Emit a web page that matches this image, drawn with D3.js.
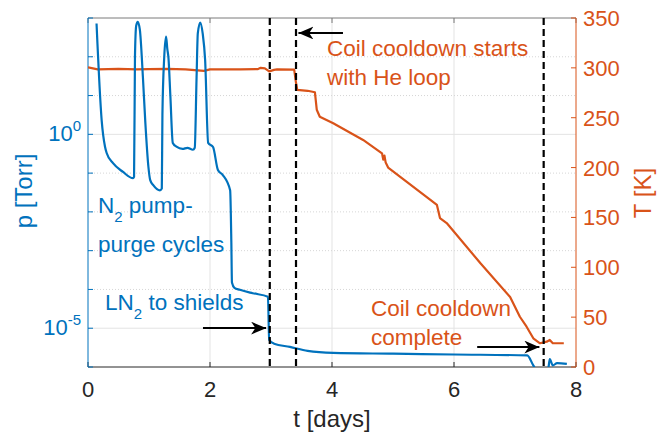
<!DOCTYPE html>
<html lang="en">
  <head>
    <meta charset="UTF-8" />
    <title>pressure and temperature vs time - d3</title>
    <script src="https://d3js.org/d3.v7.min.js"></script>
  </head>
  <style>
    html,
    body {
      margin: 0;
      padding: 0;
      background: #fff;
    }
    text {
      font-family: Arial, "Liberation Sans", Helvetica, sans-serif;
    }
  </style>
  <body>
    <script>
      // pressure (left, log axis)
      var tPress = [0.14, 0.224, 0.279, 0.306, 0.41, 0.574, 0.738, 0.755, 0.77, 0.79, 0.815, 0.85, 0.9, 0.94, 0.99, 1.02, 1.07, 1.18, 1.21, 1.22, 1.25, 1.28, 1.3, 1.32, 1.35, 1.39, 1.45, 1.55, 1.63, 1.72, 1.75, 1.78, 1.8, 1.84, 1.88, 1.92, 1.97, 2.05, 2.13, 2.21, 2.33, 2.35, 2.36, 2.4, 2.49, 2.7, 2.95, 2.97, 3.05, 3.31, 3.6, 4.02, 5.0, 6.0, 7.2, 7.3, 7.36, 7.52, 7.55, 7.57, 7.62, 7.69, 7.85];
      var pTorr = [720, 2.3, 0.48, 0.33, 0.18, 0.107, 0.074, 0.08, 100, 630, 800, 500, 30, 2, 0.146, 0.066, 0.049, 0.036, 0.04, 3.2, 100, 330, 160, 90, 10, 0.6, 0.48, 0.42, 0.45, 0.4, 0.45, 30, 400, 760, 400, 83, 0.6, 0.47, 0.12, 0.089, 0.036, 0.0016, 1.5e-4, 1.1e-4, 9.8e-5, 8e-5, 6.5e-5, 5e-6, 4e-6, 3.3e-6, 2.6e-6, 2.3e-6, 2.2e-6, 2.1e-6, 2.0e-6, 1.1e-6, 8e-7, 8e-7, 1.0e-6, 1.6e-6, 1.1e-6, 1.26e-6, 1.2e-6];

      // temperature (right axis)
      var tTemp = [0, 0.16, 0.5, 0.8, 1.0, 1.3, 1.6, 1.9, 2.0, 2.5, 2.78, 2.83, 2.9, 2.97, 3.05, 3.1, 3.38, 3.41, 3.43, 3.6, 3.72, 3.75, 3.8, 4.02, 4.51, 4.82, 4.84, 4.86, 4.88, 4.92, 5.72, 5.77, 5.88, 6.43, 6.92, 7.08, 7.19, 7.3, 7.41, 7.52, 7.57, 7.62, 7.8];
      var tempK = [300.5, 298.5, 299, 298.5, 298.8, 299, 298.5, 297, 298.5, 298.5, 298.7, 300, 299.5, 296.5, 298, 298.5, 298.3, 285, 278, 277, 275.5, 258, 251, 244.4, 227.7, 214.3, 208, 212, 205, 200, 162.5, 149.4, 144.4, 104.3, 70.2, 50.4, 40.4, 28.8, 23.8, 25.4, 27.1, 23.8, 23.8];

      // event markers (days)
      var eventDays = [2.98, 3.41, 7.47];

      var xTicks = [0, 2, 4, 6, 8];
      var pDecades = [1e-6, 1e-5, 1e-4, 1e-3, 1e-2, 1e-1, 1e0, 1e1, 1e2, 1e3];
      var pLabels = [1e-5, 1e0];
      var tTicks = [0, 50, 100, 150, 200, 250, 300, 350];

      var blue = "#0072BD";
      var orange = "#D95319";
      var dark = "#262626";

      var W = 669, H = 435;
      var pxL = 88, pxR = 576, pyT = 18, pyB = 367;

      var svg = d3.select("body").append("svg")
        .attr("width", W)
        .attr("height", H);

      var x = d3.scaleLinear().domain([0, 8]).range([pxL, pxR]);
      var yP = d3.scaleLog().domain([1e-6, 1e3]).range([pyB, pyT]);
      var yT = d3.scaleLinear().domain([0, 350]).range([pyB, pyT]);

      svg.append("clipPath").attr("id", "plot")
        .append("rect")
        .attr("x", pxL).attr("y", pyT)
        .attr("width", pxR - pxL).attr("height", pyB - pyT);

      // grid
      svg.append("g").selectAll("line")
        .data(xTicks.slice(1, -1))
        .enter().append("line")
        .attr("x1", d => x(d)).attr("x2", d => x(d))
        .attr("y1", pyT).attr("y2", pyB)
        .attr("stroke", "#e3e3e3").attr("stroke-width", 1);

      svg.append("g").selectAll("line")
        .data(pDecades.slice(1, -1))
        .enter().append("line")
        .attr("x1", pxL).attr("x2", pxR)
        .attr("y1", d => yP(d)).attr("y2", d => yP(d))
        .attr("stroke", d => pLabels.indexOf(d) >= 0 ? "#e3e3e3" : "#d6d6d6")
        .attr("stroke-width", 1)
        .attr("stroke-dasharray", d => pLabels.indexOf(d) >= 0 ? null : "1,2");

      // box top / bottom
      svg.append("line")
        .attr("x1", pxL).attr("x2", pxR).attr("y1", pyT).attr("y2", pyT)
        .attr("stroke", "#7a7a7a").attr("stroke-width", 1);
      svg.append("line")
        .attr("x1", pxL).attr("x2", pxR).attr("y1", pyB).attr("y2", pyB)
        .attr("stroke", dark).attr("stroke-width", 1);

      // x ticks, pointing in
      svg.append("g").selectAll("line")
        .data(xTicks)
        .enter().append("line")
        .attr("x1", d => x(d)).attr("x2", d => x(d))
        .attr("y1", pyB).attr("y2", pyB - 5)
        .attr("stroke", dark);
      svg.append("g").selectAll("line")
        .data(xTicks)
        .enter().append("line")
        .attr("x1", d => x(d)).attr("x2", d => x(d))
        .attr("y1", pyT).attr("y2", pyT + 5)
        .attr("stroke", "#7a7a7a");
      svg.append("g").selectAll("text")
        .data(xTicks)
        .enter().append("text")
        .attr("x", d => x(d))
        .attr("y", 397)
        .attr("text-anchor", "middle")
        .attr("font-size", 22)
        .attr("fill", dark)
        .text(d => d);

      svg.append("text")
        .attr("x", (pxL + pxR) / 2)
        .attr("y", 427)
        .attr("text-anchor", "middle")
        .attr("font-size", 24)
        .attr("fill", dark)
        .text("t [days]");

      // left axis
      svg.append("line")
        .attr("x1", pxL).attr("x2", pxL).attr("y1", pyT).attr("y2", pyB)
        .attr("stroke", blue).attr("stroke-width", 1);
      svg.append("g").selectAll("line")
        .data(pDecades)
        .enter().append("line")
        .attr("x1", pxL).attr("x2", pxL + 5)
        .attr("y1", d => yP(d)).attr("y2", d => yP(d))
        .attr("stroke", blue);
      var pl = svg.append("g").selectAll("text")
        .data(pLabels)
        .enter().append("text")
        .attr("x", 81)
        .attr("y", d => yP(d) + 7)
        .attr("text-anchor", "end")
        .attr("font-size", 22)
        .attr("fill", blue);
      pl.append("tspan").text("10");
      pl.append("tspan")
        .attr("dy", -10)
        .attr("font-size", 15)
        .text(d => Math.round(Math.log10(d)) === 0 ? "0" : "-" + Math.abs(Math.round(Math.log10(d))));

      svg.append("text")
        .attr("transform", "translate(32,191) rotate(-90)")
        .attr("text-anchor", "middle")
        .attr("font-size", 24)
        .attr("fill", blue)
        .text("p [Torr]");

      // right axis
      svg.append("line")
        .attr("x1", pxR).attr("x2", pxR).attr("y1", pyT).attr("y2", pyB)
        .attr("stroke", orange).attr("stroke-width", 1);
      svg.append("g").selectAll("line")
        .data(tTicks)
        .enter().append("line")
        .attr("x1", pxR).attr("x2", pxR - 5)
        .attr("y1", d => yT(d)).attr("y2", d => yT(d))
        .attr("stroke", orange);
      svg.append("g").selectAll("text")
        .data(tTicks)
        .enter().append("text")
        .attr("x", 583)
        .attr("y", d => yT(d) + 8)
        .attr("font-size", 22)
        .attr("fill", orange)
        .text(d => d);

      svg.append("text")
        .attr("transform", "translate(651,193) rotate(-90)")
        .attr("text-anchor", "middle")
        .attr("font-size", 24)
        .attr("fill", orange)
        .text("T [K]");

      // data lines
      var plot = svg.append("g").attr("clip-path", "url(#plot)");

      var pLine = d3.line()
        .x(d => x(d[0]))
        .y(d => yP(d[1]))
        .curve(d3.curveMonotoneX);
      var tLine = d3.line()
        .x(d => x(d[0]))
        .y(d => yT(d[1]));

      plot.append("path")
        .datum(d3.zip(tTemp, tempK))
        .attr("d", tLine)
        .attr("fill", "none")
        .attr("stroke", orange)
        .attr("stroke-width", 2.2)
        .attr("stroke-linejoin", "round");

      plot.append("path")
        .datum(d3.zip(tPress, pTorr))
        .attr("d", pLine)
        .attr("fill", "none")
        .attr("stroke", blue)
        .attr("stroke-width", 2.2)
        .attr("stroke-linejoin", "round");

      // event lines
      svg.append("g").selectAll("line")
        .data(eventDays)
        .enter().append("line")
        .attr("x1", d => x(d)).attr("x2", d => x(d))
        .attr("y1", pyT).attr("y2", pyB)
        .attr("stroke", "#000")
        .attr("stroke-width", 2.2)
        .attr("stroke-dasharray", "7,4");

      // arrows
      svg.append("defs").append("marker")
        .attr("id", "head")
        .attr("markerUnits", "userSpaceOnUse")
        .attr("viewBox", "0 0 14 12")
        .attr("refX", 14).attr("refY", 6)
        .attr("markerWidth", 15).attr("markerHeight", 13)
        .attr("orient", "auto")
        .append("path")
        .attr("d", "M0,0 L14,6 L0,12 L4,6 Z")
        .attr("fill", "#000");

      var arrows = [
        [4.18, 335, 3.45, 335],
        [1.885, 39, 2.92, 39],
        [6.38, 20, 7.4, 20]
      ];
      svg.append("g").selectAll("line")
        .data(arrows)
        .enter().append("line")
        .attr("x1", d => x(d[0])).attr("y1", d => yT(d[1]))
        .attr("x2", d => x(d[2])).attr("y2", d => yT(d[3]))
        .attr("stroke", "#000")
        .attr("stroke-width", 2)
        .attr("marker-end", "url(#head)");

      // annotations
      function label(t, temp, color, parts) {
        var el = svg.append("text")
          .attr("x", x(t)).attr("y", yT(temp))
          .attr("font-size", 22.5)
          .attr("fill", color);
        parts.forEach(function (p) {
          if (p.sub) {
            el.append("tspan").attr("dy", 9).attr("font-size", 15).text(p.s);
          } else {
            el.append("tspan").attr("dy", p.back ? -9 : 0).text(p.s);
          }
        });
      }
      label(0.164, 154.4, blue, [{ s: "N" }, { s: "2", sub: true }, { s: " pump-", back: true }]);
      label(0.164, 115.3, blue, [{ s: "purge cycles" }]);
      label(0.279, 57.2, blue, [{ s: "LN" }, { s: "2", sub: true }, { s: " to shields", back: true }]);
      label(3.918, 312.2, orange, [{ s: "Coil cooldown starts" }]);
      label(3.918, 283.1, orange, [{ s: "with He loop" }]);
      label(4.64, 51.1, orange, [{ s: "Coil cooldown" }]);
      label(4.64, 22.1, orange, [{ s: "complete" }]);
    </script>
  </body>
</html>
